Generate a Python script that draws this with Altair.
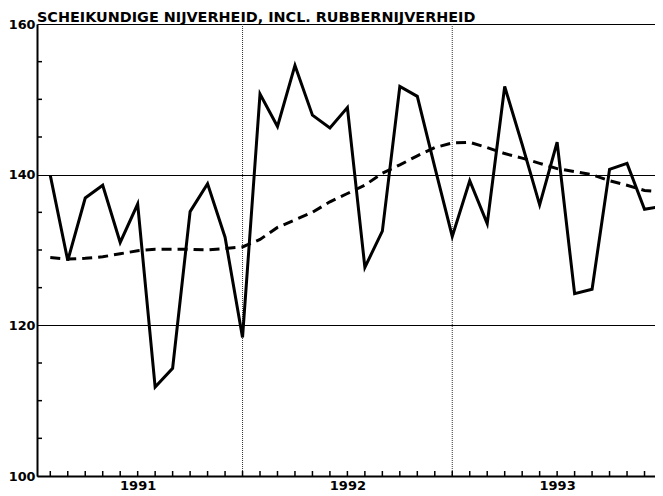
import altair as alt
import pandas as pd

# ---- data ----
years = ["1991", "1992", "1993"]
months = list(range(36))  # Jan 1991 .. Dec 1993 (index)
actual = [139.9, 128.6, 136.9, 138.6, 131.0, 136.1, 111.8, 114.3, 135.1, 138.8, 131.7, 118.4,
          150.7, 146.4, 154.5, 147.9, 146.2, 148.9, 127.7, 132.5, 151.7, 150.4, 141.0, 131.8,
          139.2, 133.5, 151.7, 144.0, 136.0, 144.3, 124.2, 124.8, 140.7, 141.5, 135.4, 135.8]
trend = [129.0, 128.8, 128.9, 129.1, 129.5, 129.9, 130.1, 130.1, 130.1, 130.0, 130.2, 130.4,
         131.4, 133.0, 134.0, 135.0, 136.4, 137.5, 138.6, 140.2, 141.3, 142.5, 143.6, 144.2,
         144.3, 143.6, 142.8, 142.2, 141.5, 140.8, 140.4, 140.0, 139.2, 138.6, 137.9, 137.7]
y_labels = [100, 120, 140, 160]
y_minor = [105, 110, 115, 125, 130, 135, 145, 150, 155]
title = "SCHEIKUNDIGE NIJVERHEID, INCL. RUBBERNIJVERHEID"

W, H = 618, 452
FONT = "DejaVu Sans"

df = pd.DataFrame({"m": months, "actual": actual, "trend": trend})
year_pos = [12 * i + 5 for i in range(len(years))]
year_bounds = pd.DataFrame({"m": [12 * i - 1 for i in range(1, len(years))]})
xticks = pd.DataFrame({"m": months})
yticks = pd.DataFrame({"v": y_minor})
title_df = pd.DataFrame({"t": [title]})

label_expr = " : ".join(
    [f"datum.value == {p} ? '{y}'" for p, y in zip(year_pos, years)]
) + " : ''"

xscale = alt.Scale(domain=[-0.76, 34.6], nice=False, zero=False)
yscale = alt.Scale(domain=[100, 160], nice=False, zero=False)

xaxis = alt.Axis(values=year_pos, labelExpr=label_expr, ticks=False, grid=False,
                 domain=True, domainColor="black", domainWidth=2,
                 labelFont=FONT, labelFontSize=13, labelFontWeight="bold",
                 labelColor="black", labelPadding=3, title=None)
yaxis = alt.Axis(values=y_labels, ticks=False, grid=True, gridColor="black",
                 gridWidth=1.2, gridOpacity=1, domain=True, domainColor="black",
                 domainWidth=2, labelFont=FONT, labelFontSize=12.8, labelFontWeight="bold",
                 labelColor="black", labelPadding=2, title=None)

base = alt.Chart(df)

line_actual = base.mark_line(color="black", strokeWidth=3, strokeJoin="miter", clip=True).encode(
    x=alt.X("m:Q", scale=xscale, axis=xaxis),
    y=alt.Y("actual:Q", scale=yscale, axis=yaxis),
)
line_trend = base.mark_line(color="black", strokeWidth=3, strokeDash=[10, 6], clip=True).encode(
    x=alt.X("m:Q", scale=xscale),
    y=alt.Y("trend:Q", scale=yscale),
)
vlines = alt.Chart(year_bounds).mark_rule(color="#333333", strokeWidth=1, strokeDash=[1, 1]).encode(
    x=alt.X("m:Q", scale=xscale),
    y=alt.value(0), y2=alt.value(H),
)
xt = alt.Chart(xticks).mark_rule(color="black", strokeWidth=1.5, clip=True).encode(
    x=alt.X("m:Q", scale=xscale),
    y=alt.value(H), y2=alt.value(H - 5),
)
yt = alt.Chart(yticks).mark_rule(color="black", strokeWidth=1.5).encode(
    y=alt.Y("v:Q", scale=yscale),
    x=alt.value(0), x2=alt.value(5),
)
title_text = alt.Chart(title_df).mark_text(
    font=FONT, fontSize=14.4, fontWeight="bold", color="black",
    align="left", baseline="alphabetic",
).encode(text="t:N", x=alt.value(0), y=alt.value(-2.5))

chart = alt.layer(vlines, xt, yt, line_trend, line_actual, title_text).properties(
    width=W, height=H,
    autosize=alt.AutoSizeParams(type="none"),
    padding={"left": 29, "top": 16, "right": 0, "bottom": 16},
).configure_view(stroke=None).configure(background="white")

chart.save("out.html", embed_options={"renderer": "svg", "actions": False})
